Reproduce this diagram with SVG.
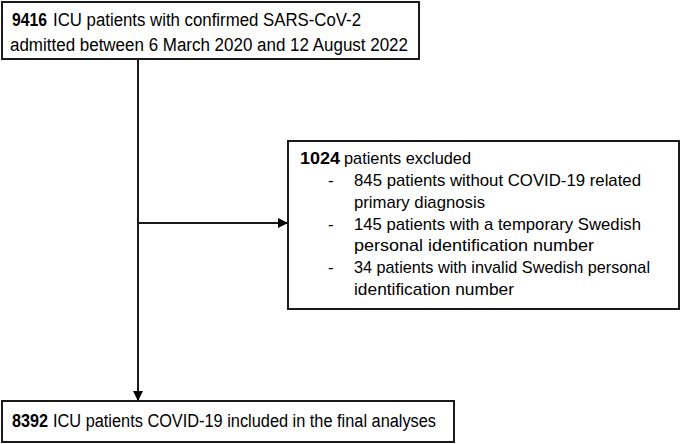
<svg xmlns="http://www.w3.org/2000/svg" width="685" height="444" viewBox="0 0 685 444">
<style>
.box{fill:#fff;stroke:#1a1a1a;stroke-width:2}
.t{font-family:"Liberation Sans",Arial,sans-serif;font-size:18px;fill:#000}
.s{font-size:17px}
.b{font-weight:bold}
.ln{stroke:#1a1a1a;stroke-width:2;fill:none}
</style>
<defs>
<marker id="ah" markerWidth="10" markerHeight="10" refX="9" refY="5" orient="auto" markerUnits="userSpaceOnUse">
<path d="M0,0 L10,5 L0,10 Z" fill="#000"/>
</marker>
</defs>
<g id="connectors">
<line class="ln" x1="138" y1="59" x2="138" y2="400" marker-end="url(#ah)"/>
<line class="ln" x1="138" y1="223" x2="287" y2="223" marker-end="url(#ah)"/>
</g>
<g id="node-top">
<rect class="box" x="2" y="2" width="417" height="57"/>
<text class="t b" x="12" y="26" textLength="35" lengthAdjust="spacingAndGlyphs">9416</text>
<text class="t" x="53" y="26" textLength="308" lengthAdjust="spacingAndGlyphs">ICU patients with confirmed SARS-CoV-2</text>
<text class="t" x="10" y="51" textLength="398" lengthAdjust="spacingAndGlyphs">admitted between 6 March 2020 and 12 August 2022</text>
</g>
<g id="node-excluded">
<rect class="box" x="288" y="141" width="391" height="168"/>
<text class="t s b" x="300" y="164" textLength="40" lengthAdjust="spacingAndGlyphs">1024</text>
<text class="t s" x="344" y="164" textLength="127" lengthAdjust="spacingAndGlyphs">patients excluded</text>
<text class="t s" x="328" y="186">-</text>
<text class="t s" x="354" y="186" textLength="287" lengthAdjust="spacingAndGlyphs">845 patients without COVID-19 related</text>
<text class="t s" x="354" y="208" textLength="131" lengthAdjust="spacingAndGlyphs">primary diagnosis</text>
<text class="t s" x="328" y="230">-</text>
<text class="t s" x="354" y="230" textLength="287" lengthAdjust="spacingAndGlyphs">145 patients with a temporary Swedish</text>
<text class="t s" x="354" y="251" textLength="240" lengthAdjust="spacingAndGlyphs">personal identification number</text>
<text class="t s" x="328" y="273">-</text>
<text class="t s" x="354" y="273" textLength="296" lengthAdjust="spacingAndGlyphs">34 patients with invalid Swedish personal</text>
<text class="t s" x="354" y="295" textLength="160" lengthAdjust="spacingAndGlyphs">identification number</text>
</g>
<g id="node-final">
<rect class="box" x="2" y="401" width="452" height="41"/>
<text class="t b" x="12" y="427" textLength="36" lengthAdjust="spacingAndGlyphs">8392</text>
<text class="t" x="53" y="427" textLength="383" lengthAdjust="spacingAndGlyphs">ICU patients COVID-19 included in the final analyses</text>
</g>
</svg>
